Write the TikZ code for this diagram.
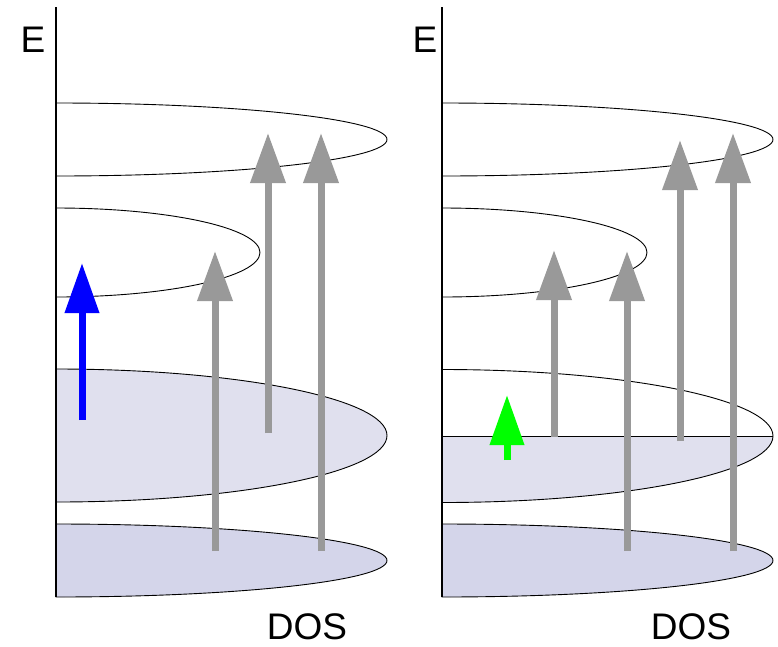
\documentclass[tikz,border=0pt]{standalone}
\usepackage{fontspec}
\setmainfont{Liberation Sans}
\usetikzlibrary{arrows.meta}

\definecolor{bandlight}{RGB}{224,224,238}
\definecolor{banddark}{RGB}{212,213,234}
\definecolor{transgray}{RGB}{153,153,153}
\definecolor{pumpgreen}{RGB}{0,255,0}

\begin{document}
\begin{tikzpicture}[
    x=1pt, y=-1pt,
    axis/.style={draw=black, line width=2pt},
    band/.style={draw=black, line width=0.9pt},
    trans/.style={draw=transgray, line width=7pt, -{Triangle[width=34pt, length=50pt]}},
    pump/.style={line width=7pt, -{Triangle[width=33pt, length=50pt]}},
    label/.style={font=\fontsize{37}{40}\selectfont, inner sep=0pt}
]
\useasboundingbox (0,0) rectangle (778,646);

% --- Левая панель ---
\draw[band] (56,103) arc[start angle=90, end angle=-90, x radius=331pt, y radius=36.5pt] -- cycle;
\draw[band] (56,208) arc[start angle=90, end angle=-90, x radius=204pt, y radius=44.5pt] -- cycle;
\draw[band, fill=bandlight] (56,369) arc[start angle=90, end angle=-90, x radius=331pt, y radius=66.5pt] -- cycle;
\draw[band, fill=banddark] (56,524) arc[start angle=90, end angle=-90, x radius=331pt, y radius=36.5pt] -- cycle;

\coordinate (axL0) at (56,597);
\coordinate (axL1) at (56,7);
\draw[axis] (axL0) -- (axL1);
\node[label] (EL) at (33,40) {E};
\node[label] (DOSL) at (307,627) {DOS};

% Переходы
\coordinate (bL0) at (82,420);   \coordinate (bL1) at (82,263);
\coordinate (gL0) at (215,551);  \coordinate (gL1) at (215,251);
\coordinate (hL0) at (268,433);  \coordinate (hL1) at (268,133);
\coordinate (kL0) at (321,551);  \coordinate (kL1) at (321,133);
\draw[pump, draw=blue] (bL0) -- (bL1);
\draw[trans] (gL0) -- (gL1);
\draw[trans] (hL0) -- (hL1);
\draw[trans] (kL0) -- (kL1);

% --- Правая панель ---
\draw[band] (442,103) arc[start angle=90, end angle=-90, x radius=331pt, y radius=36.5pt] -- cycle;
\draw[band] (442,208) arc[start angle=90, end angle=-90, x radius=205pt, y radius=44.5pt] -- cycle;
\fill[bandlight] (442,436) -- (773,436) arc[start angle=0, end angle=-90, x radius=331pt, y radius=66.5pt] -- cycle;
\draw[band] (442,369.5) arc[start angle=90, end angle=-90, x radius=331pt, y radius=66.5pt] -- cycle;
\coordinate (fermi0) at (442,436);
\coordinate (fermi1) at (773,436);
\draw[band] (fermi0) -- (fermi1);
\draw[band, fill=banddark] (442,524) arc[start angle=90, end angle=-90, x radius=331pt, y radius=36.5pt] -- cycle;

\coordinate (axR0) at (442,597);
\coordinate (axR1) at (442,7);
\draw[axis] (axR0) -- (axR1);
\node[label] (ER) at (425,40) {E};
\node[label] (DOSR) at (691,627) {DOS};

% Переходы
\coordinate (pR0) at (507,460);  \coordinate (pR1) at (507,395);
\coordinate (gR0) at (554,437);  \coordinate (gR1) at (554,250);
\coordinate (hR0) at (627,551);  \coordinate (hR1) at (627,251);
\coordinate (kR0) at (680,441);  \coordinate (kR1) at (680,140);
\coordinate (mR0) at (733,551);  \coordinate (mR1) at (733,133);
\draw[pump, draw=pumpgreen] (pR0) -- (pR1);
\draw[trans] (gR0) -- (gR1);
\draw[trans] (hR0) -- (hR1);
\draw[trans] (kR0) -- (kR1);
\draw[trans] (mR0) -- (mR1);
\end{tikzpicture}
\end{document}
